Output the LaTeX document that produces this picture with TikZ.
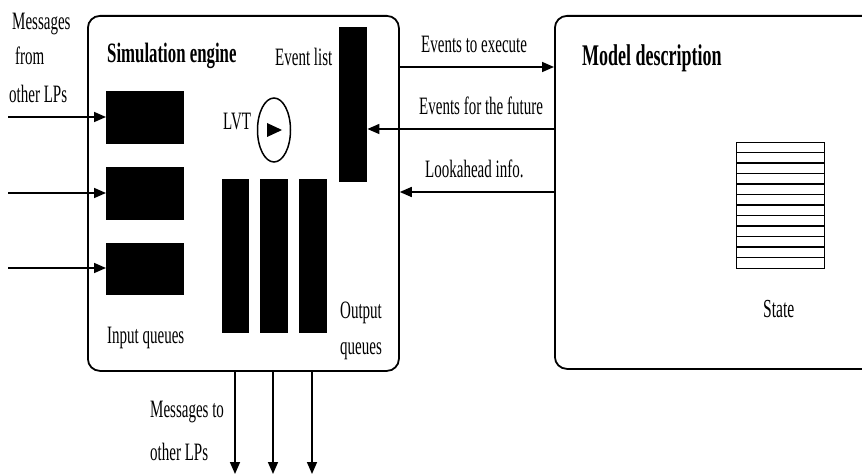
\documentclass[tikz,border=0pt]{standalone}
\usepackage{fontspec}
\setmainfont[FakeStretch=0.6]{Liberation Serif}
\usetikzlibrary{arrows.meta,shapes.geometric}
\begin{document}
\begin{tikzpicture}[x=1pt,y=-1pt,
  box/.style={draw, line width=1.8pt, rounded corners=12pt, anchor=north west, inner sep=0pt},
  blk/.style={fill=black, draw=none, anchor=north west, inner sep=0pt},
  arr/.style={line width=1.6pt, -{Triangle[length=12pt,width=10pt]}},
  lbl/.style={anchor=base west, inner sep=0pt, font=\fontsize{25}{30}\selectfont},
  ttl/.style={anchor=base west, inner sep=0pt, font=\fontsize{28}{33}\selectfont\bfseries},
]
\useasboundingbox (0,0) rectangle (862,476);
\clip (0,0) rectangle (862,476);

% boxes
\node[box, minimum width=311pt, minimum height=355pt] (eng) at (87,15) {};
\node[box, minimum width=360pt, minimum height=353pt] (model) at (554,15) {};

% input queues
\node[blk, minimum width=78pt, minimum height=53pt] (iq1) at (106,91) {};
\node[blk, minimum width=78pt, minimum height=53pt] (iq2) at (106,167) {};
\node[blk, minimum width=78pt, minimum height=52pt] (iq3) at (106,243) {};

% output queues
\node[blk, minimum width=27pt, minimum height=154pt] (oq1) at (222,179) {};
\node[blk, minimum width=28pt, minimum height=154pt] (oq2) at (260,179) {};
\node[blk, minimum width=28pt, minimum height=154pt] (oq3) at (299,179) {};

% event list
\node[blk, minimum width=28pt, minimum height=155pt] (evlist) at (339,27) {};

% LVT clock
\node[draw, ellipse, line width=1.5pt, minimum width=33pt, minimum height=64pt, inner sep=0pt] (clk) at (274,130) {};
\fill (clk.center) ++(-7,-7) -- ++(0,14) -- ++(15,-7) -- cycle;

% state
\node[draw, line width=1.4pt, anchor=north west, minimum width=88pt, minimum height=126pt, inner sep=0pt] (state) at (736,142) {};
\foreach \k in {1,...,11} {
  \draw[line width=1.4pt] ([yshift=-\k*10.5pt]state.north west) -- ([yshift=-\k*10.5pt]state.north east);
}

% incoming messages
\coordinate (in1) at (8,117);
\coordinate (in2) at (8,193);
\coordinate (in3) at (8,268);
\draw[arr] (in1) -- (iq1.west |- in1);
\draw[arr] (in2) -- (iq2.west |- in2);
\draw[arr] (in3) -- (iq3.west |- in3);

% outgoing messages
\coordinate (out1) at (235,474);
\coordinate (out2) at (273,474);
\coordinate (out3) at (312,474);
\draw[arr] (eng.south -| out1) -- (out1);
\draw[arr] (eng.south -| out2) -- (out2);
\draw[arr] (eng.south -| out3) -- (out3);

% connections between engine and model
\coordinate (ya) at (0,67);
\coordinate (yb) at (0,129);
\coordinate (yc) at (0,192);
\draw[arr] (eng.east |- ya) -- (model.west |- ya);
\draw[arr] (model.west |- yb) -- (evlist.east |- yb);
\draw[arr] (model.west |- yc) -- (eng.east |- yc);

% labels
\node[lbl] (tmsgA) at (12,30) {Messages};
\node[lbl] (tmsgB) at (15,65) {from};
\node[lbl] (tmsgC) at (9,103) {other LPs};
\node[ttl] (tsim) at (107,63) {Simulation engine};
\node[lbl] (tevl) at (275,66) {Event list};
\node[lbl] (texe) at (421,53) {Events to execute};
\node[lbl] (tfut) at (419,115) {Events for the future};
\node[lbl] (tlook) at (425,178) {Lookahead info.};
\node[ttl, font=\fontsize{30}{35}\selectfont\bfseries] (tmod) at (582,66) {Model description};
\node[lbl] (tlvt) at (223,130) {LVT};
\node[lbl] (tinq) at (107,343) {Input queues};
\node[lbl] (toutA) at (340,318) {Output};
\node[lbl] (toutB) at (340,354) {queues};
\node[lbl] (tmtoA) at (150,417) {Messages to};
\node[lbl] (tmtoB) at (150,460) {other LPs};
\node[lbl, font=\fontsize{26}{31}\selectfont] (tstate) at (763,317) {State};
\end{tikzpicture}
\end{document}
